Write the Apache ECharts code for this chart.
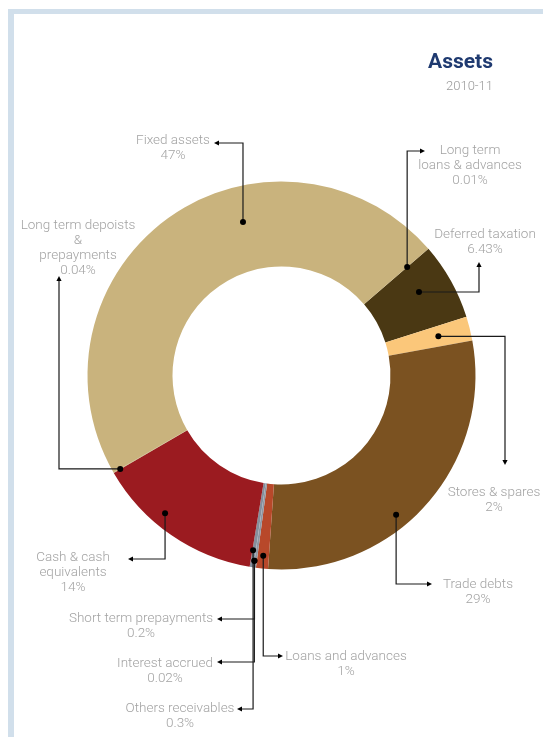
<!DOCTYPE html>
<html>
<head>
<meta charset="utf-8">
<script src="https://cdn.jsdelivr.net/npm/echarts@6/dist/echarts.min.js"></script>
<style>
html,body{margin:0;padding:0;background:#fff;}
#chart{width:543px;height:737px;}
</style>
</head>
<body>
<div id="chart"></div>
<script>
// ---- data ----
const categories = [
  'Long term\nloans & advances',
  'Deferred taxation',
  'Stores & spares',
  'Trade debts',
  'Loans and advances',
  'Short term prepayments',
  'Interest accrued',
  'Others receivables',
  'Cash & cash\nequivalents',
  'Long term depoists\n&\nprepayments',
  'Fixed assets'
];
const values = [0.01, 6.43, 2, 29, 1, 0.2, 0.02, 0.3, 14, 0.04, 47];
const colors = ['#6b5224', '#4a3813', '#fbc77a', '#7b5221', '#b8482a', '#8e96a2', '#9aa2ac', '#858f9c', '#9b1b20', '#b9a36e', '#c9b37d'];
const titleText = 'Assets';
const subtitleText = '2010-11';

// ---- label / leader layout (annotation geometry, not data) ----
const labelPos = [[470,166],[485,242],[494,500],[478,592],[346,664],[141,626],[165,671],[180,716],[73,573],[78,248],[173,148]];
const dotAngleFrac = [0.5, 0.41, 0.5, 0.584, 0.5, 1.0, 0.5, 0.8, 0.61, 0.5, 0.626];
const dotRadiusFrac = [0.67, 0.61, 0.62, 0.84, 0.85, 0.92, 0.92, 0.8, 0.84, 0.91, 0.58];
const leaderEnd = [[425,151],[479,262],[505,465],[432,584],[283,656],[217,619],[217,662],[237,709],[128,559],[59,276],[214,143]];
const leaderMode = ['v','h','h','v','v','v','v','v','v','h','v'];

const chart = echarts.init(document.getElementById('chart'), null, {renderer: 'canvas'});

const FONT = 'Roboto';
const option = {
  animation: false,
  title: [{
    text: titleText,
    right: 45,
    top: 47,
    textStyle: {color: '#1f3a70', fontSize: 21, fontWeight: 'bold', fontFamily: FONT}
  }, {
    text: subtitleText,
    right: 45,
    top: 75,
    textStyle: {color: '#9a9a9a', fontSize: 13, fontWeight: 300, fontFamily: FONT}
  }],
  series: [{
    type: 'pie',
    center: [281.5, 375.5],
    radius: [109, 194],
    startAngle: 40.8,
    clockwise: true,
    minAngle: 0,
    avoidLabelOverlap: false,
    data: categories.map((c, i) => ({name: c, value: values[i], itemStyle: {color: colors[i]}})),
    itemStyle: {borderWidth: 0},
    label: {
      show: true,
      position: 'outside',
      formatter: p => p.name + '\n' + p.value + '%',
      color: '#a3a3a3',
      fontSize: 13.5,
      fontFamily: FONT,
      fontWeight: 300,
      lineHeight: 15
    },
    labelLine: {show: false},
    labelLayout: p => ({
      x: labelPos[p.dataIndex][0],
      y: labelPos[p.dataIndex][1],
      align: 'center',
      verticalAlign: 'middle'
    }),
    emphasis: {disabled: true}
  }]
};
chart.setOption(option);

// leaders computed from the library's pie layout
const sData = chart.getModel().getSeriesByIndex(0).getData();
const graphics = [
  {type: 'rect', shape: {x: 8, y: 9, width: 535, height: 5}, style: {fill: '#d1dfeb'}, z: 1},
  {type: 'rect', shape: {x: 8, y: 9, width: 6, height: 728}, style: {fill: '#d1dfeb'}, z: 1}
];
for (let i = 0; i < categories.length; i++) {
  const L = sData.getItemLayout(i);
  const a = L.startAngle + (L.endAngle - L.startAngle) * dotAngleFrac[i];
  const R = L.r0 + (L.r - L.r0) * dotRadiusFrac[i];
  const dx = L.cx + R * Math.cos(a), dy = L.cy + R * Math.sin(a);
  const [ex, ey] = leaderEnd[i];
  let mid, dir;
  if (leaderMode[i] === 'v') {
    mid = [dx, ey];
    dir = ex > dx ? [1, 0] : [-1, 0];
  } else {
    mid = [ex, dy];
    dir = ey > dy ? [0, 1] : [0, -1];
  }
  graphics.push({type: 'polyline', shape: {points: [[dx, dy], mid, [ex - dir[0]*2, ey - dir[1]*2]]},
    style: {stroke: '#1a1a1a', lineWidth: 1.2, fill: null}, z: 10});
  graphics.push({type: 'circle', shape: {cx: dx, cy: dy, r: 3}, style: {fill: '#000'}, z: 11});
  const al = 5, aw = 2.6;
  const px = -dir[1], py = dir[0];
  graphics.push({type: 'polygon', shape: {points: [
    [ex, ey],
    [ex - dir[0]*al + px*aw, ey - dir[1]*al + py*aw],
    [ex - dir[0]*al - px*aw, ey - dir[1]*al - py*aw]
  ]}, style: {fill: '#000'}, z: 11});
}
chart.setOption({graphic: graphics});
</script>
</body>
</html>
